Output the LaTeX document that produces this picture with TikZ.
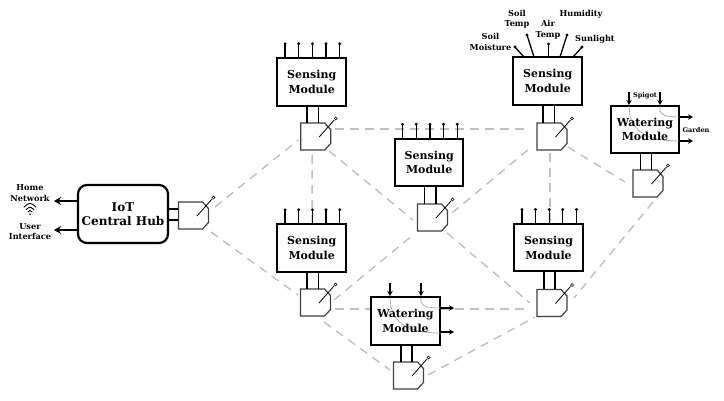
\documentclass[tikz,border=0pt]{standalone}
\usepackage{fontspec}
\setmainfont{DejaVu Serif}
\usetikzlibrary{arrows.meta}
\tikzset{
  x=1pt,y=-1pt,
  modbox/.style={draw=black,fill=white,line width=2pt,minimum width=68.5pt,minimum height=47.5pt,inner sep=0pt},
  modtext/.style={inner sep=0pt,align=center,font=\fontsize{11}{14.5}\selectfont\bfseries},
  hubbox/.style={draw=black,fill=white,line width=2.2pt,rounded corners=9pt,minimum width=90pt,minimum height=58pt,inner sep=0pt,align=center,font=\fontsize{12}{13.5}\selectfont\bfseries},
  radio/.style={minimum width=30pt,minimum height=27pt,inner sep=0pt},
  radioline/.style={draw=black!75,fill=white,line width=1.2pt,line join=miter},
  leg/.style={draw=black,line width=1.5pt},
  ant/.style={draw=black,line width=.8pt},
  link/.style={draw=black!25,line width=1.4pt,dash pattern=on 8.5pt off 6.5pt},
  pin/.style={draw=black,line width=1.3pt},
  flow/.style={draw=black,line width=1.2pt,-{Stealth[length=5pt,width=5.5pt]}},
  bigflow/.style={draw=black,line width=1.7pt,-{Stealth[length=7pt,width=8pt]}},
  pipe/.style={draw=black!35,line width=.7pt},
  lab/.style={inner sep=0pt,align=center,font=\fontsize{8.2}{10.5}\selectfont\bfseries},
  tiny/.style={inner sep=0pt,align=center,font=\fontsize{6.6}{8}\selectfont\bfseries},
}
\newcommand{\radionode}[3]{\node[radio] (#1) at (#2,#3) {};
  \draw[radioline] (#2-15,#3-13.5) -- (#2+9,#3-13.5) -- (#2+15,#3-7) -- (#2+15,#3+7) -- (#2+9,#3+13.5) -- (#2-15,#3+13.5) -- cycle;
  \draw[ant] (#2+3.5,#3+.5) -- (#2+18.5,#3-16.5);
  \filldraw[fill=white,draw=black,line width=.6pt] (#2+20,#3-18) circle (1.5pt);}
\newcommand{\legs}[2]{
  \draw[leg] ([xshift=-4.7pt]#1.south) -- ([xshift=-4.7pt]#1.south |- #2.north);
  \draw[leg] ([xshift=6.7pt]#1.south) -- ([xshift=6.7pt]#1.south |- #2.north);}
\newcommand{\pins}[1]{
  \foreach \d in {-26.6,-13,0.7,14.3,28}{
    \draw[pin] ([xshift=\d pt]#1.north) -- ([xshift=\d pt,yshift=13pt]#1.north);
    \fill ([xshift=\d pt,yshift=13.5pt]#1.north) circle (1.6pt);}}
\newcommand{\lnk}[6]{\draw[link] ([shift={(#2,#3)}]#1.center) -- ([shift={(#5,#6)}]#4.center);}
\begin{document}
\begin{tikzpicture}
\useasboundingbox (0,0) rectangle (724,400);
\radionode{rh}{193.5}{215.5}
\radionode{ra}{315.7}{136.5}
\radionode{rb}{432.5}{217.5}
\radionode{rc}{315.5}{302.5}
\radionode{rd}{552}{136.5}
\radionode{re}{552}{303}
\radionode{rw}{648}{183.5}
\radionode{rv}{408.5}{375.5}
% links
\lnk{rh}{21.5}{-8.5}{ra}{-17.5}{3.5}
\lnk{rh}{17.5}{16.5}{rc}{-17.5}{-7.5}
\lnk{ra}{-3.5}{18.5}{rc}{-3.5}{-78.5}
\lnk{ra}{19.5}{-7.5}{rd}{-22}{-7.5}
\lnk{ra}{13.5}{14.5}{rb}{-19.5}{2.5}
\lnk{rc}{18.5}{-2.5}{rb}{-19.5}{17.5}
\lnk{rb}{19.5}{-4.5}{rd}{-23}{12.5}
\lnk{rb}{14.5}{15.5}{re}{-22}{0}
\lnk{rd}{-2}{16.5}{re}{-2}{-79}
\lnk{rd}{16}{10.5}{rw}{-23}{-1.5}
\lnk{rw}{5}{18.5}{re}{22}{-5}
\lnk{rc}{19.5}{6.5}{re}{-22}{6}
\lnk{rc}{8.5}{19.5}{rv}{-18.5}{-5.5}
\lnk{rv}{19.5}{-.5}{re}{-17}{14}
% hub
\node[hubbox] (hub) at (123,214) {IoT\\Central Hub};
\draw[leg] (hub.east |- 0,209) -- (rh.west |- 0,209);
\draw[leg] (hub.east |- 0,220) -- (rh.west |- 0,220);
\draw[bigflow] (hub.west |- 0,201) -- (54,201);
\draw[bigflow] (hub.west |- 0,230) -- (54,230);
\node[lab] (hn) at (30,193) {Home\\Network};
\node[lab] (ui) at (30,231.5) {User\\Interface};
\draw[line width=.9pt] (23.9,207.2) .. controls (30,202) .. (36.1,207.2);
\draw[line width=.9pt] (26,209.7) .. controls (30,206.4) .. (34,209.7);
\draw[line width=.9pt] (27.8,211.9) .. controls (30,210.1) .. (32.2,211.9);
\fill (30,214.3) circle (.9pt);
% sensing modules
\node[modbox] (a) at (311.7,82) {};
\node[modbox] (b) at (429.2,162.5) {};
\node[modbox] (c) at (311.7,248) {};
\node[modbox] (e) at (548.5,247.7) {};
\node[modbox] (d) at (547.7,81) {};
\foreach \n in {a,b,c,d,e}{\node[modtext] (t\n) at (\n) {Sensing\\Module};}
\legs{a}{ra}\legs{b}{rb}\legs{c}{rc}\legs{d}{rd}\legs{e}{re}
\pins{a}\pins{b}\pins{c}\pins{e}
% top-right sensor pins
\foreach \x/\u/\v in {524/515/47,534/527/35,548.5/548.5/44,560/567/35,573/582/47}{
  \draw[pin] (\x,57) -- (\u,\v);
  \fill (\u,\v) circle (1.6pt);}
\node[lab] (l1) at (490.5,42) {Soil\\Moisture};
\node[lab] (l2) at (517,19) {Soil\\Temp};
\node[lab] (l3) at (548,29.5) {Air\\Temp};
\node[lab] (l4) at (581,14) {Humidity};
\node[lab] (l5) at (595,39) {Sunlight};
% watering right
\draw[flow] (629,92) -- (629,105);
\draw[flow] (660,92) -- (660,105);
\node[modbox] (w) at (645,129.5) {};
\legs{w}{rw}
\draw[pipe] (629,106) -- (630,116) .. controls (634,130) and (645,141) .. (680,141);
\draw[pipe] (660,106) -- (660,111) .. controls (662,116) and (668,117) .. (680,117);
\node[modtext] (tw) at (w) {Watering\\Module};
\draw[flow] (679,117) -- (693,117);
\draw[flow] (679,141) -- (693,141);
\node[tiny] (sp) at (645,96) {Spigot};
\node[tiny] (ga) at (696,130) {Garden};
% watering bottom
\draw[flow] (390,283) -- (390,296);
\draw[flow] (421,283) -- (421,296);
\node[modbox] (v) at (405.5,321) {};
\legs{v}{rv}
\draw[pipe] (390,298) -- (391,307) .. controls (395,321) and (405,333) .. (441,333);
\draw[pipe] (421,298) -- (421,302) .. controls (423,307) and (429,308) .. (441,308);
\node[modtext] (tv) at (v) {Watering\\Module};
\draw[flow] (440,308) -- (454,308);
\draw[flow] (440,332) -- (454,332);
\end{tikzpicture}
\end{document}
